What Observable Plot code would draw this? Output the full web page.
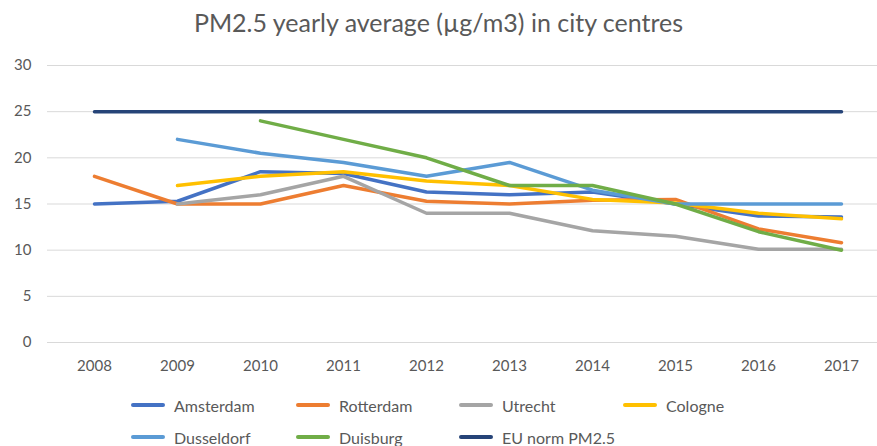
<!DOCTYPE html>
<html>
<head>
<meta charset="utf-8">
<script src="https://cdn.jsdelivr.net/npm/d3@7"></script>
<script src="https://cdn.jsdelivr.net/npm/@observablehq/plot@0.6"></script>
<style>
  html, body { margin: 0; padding: 0; background: #fff; }
  body { width: 877px; height: 446px; overflow: hidden; font-family: Lato, "Open Sans", sans-serif; color: #595959; }
  #title { height: 45px; line-height: 44px; text-align: center; font-size: 25px; color: #595959; }
  #legend { position: relative; height: 61px; }
  .item { position: absolute; display: flex; align-items: center; font-size: 16px; color: #595959; height: 20px; }
  .sw { width: 34px; height: 3.5px; border-radius: 2px; margin-right: 9px; }
</style>
</head>
<body>
<div id="title">PM2.5 yearly average (µg/m3) in city centres</div>
<div id="chart"></div>
<div id="legend"></div>
<script>
const years = [2008, 2009, 2010, 2011, 2012, 2013, 2014, 2015, 2016, 2017];
const seriesNames = ["Amsterdam", "Rotterdam", "Utrecht", "Cologne", "Dusseldorf", "Duisburg", "EU norm PM2.5"];
const seriesColors = ["#4472C4", "#ED7D31", "#A5A5A5", "#FFC000", "#5B9BD5", "#70AD47", "#264478"];
const amsterdam  = [15.0, 15.3, 18.5, 18.3, 16.3, 16.0, 16.3, 15.0, 13.7, 13.6];
const rotterdam  = [18.0, 15.0, 15.0, 17.0, 15.3, 15.0, 15.4, 15.5, 12.3, 10.8];
const utrecht    = [null, 15.0, 16.0, 18.0, 14.0, 14.0, 12.1, 11.5, 10.1, 10.1];
const cologne    = [null, 17.0, 18.0, 18.5, 17.5, 17.0, 15.5, 15.1, 14.0, 13.4];
const dusseldorf = [null, 22.0, 20.5, 19.5, 18.0, 19.5, 16.5, 15.0, 15.0, 15.0];
const duisburg   = [null, null, 24.0, 22.0, 20.0, 17.0, 17.0, 15.0, 12.0, 10.0];
const euNorm     = [25, 25, 25, 25, 25, 25, 25, 25, 25, 25];
const yTicks = [0, 5, 10, 15, 20, 25, 30];

const seriesValues = [amsterdam, rotterdam, utrecht, cologne, dusseldorf, duisburg, euNorm];
const rows = [];
seriesNames.forEach((name, i) => {
  years.forEach((yr, j) => {
    const v = seriesValues[i][j];
    if (v !== null) rows.push({series: name, year: yr, value: v});
  });
});

const chart = Plot.plot({
  width: 877,
  height: 340,
  marginTop: 20,
  marginBottom: 43,
  marginLeft: 47,
  marginRight: 0,
  style: {fontFamily: "Lato, 'Open Sans', sans-serif", fontSize: "15px", color: "#595959", background: "#fff"},
  x: {type: "point", domain: years, range: [91, 843], padding: 0, label: null},
  y: {domain: [0, 30], ticks: yTicks, label: null},
  color: {domain: seriesNames, range: seriesColors},
  marks: [
    Plot.ruleY(yTicks, {stroke: "#d9d9d9", strokeWidth: 1}),
    Plot.axisY({ticks: yTicks, tickSize: 0, tickPadding: 16, label: null, fill: "#595959", fontSize: 15}),
    Plot.axisX({tickSize: 0, tickPadding: 18, label: null, tickFormat: d => String(d), fill: "#595959", fontSize: 15}),
    Plot.line(rows, {x: "year", y: "value", z: "series", stroke: "series", strokeWidth: 3.5, strokeLinecap: "round", strokeLinejoin: "round"})
  ]
});
document.getElementById("chart").appendChild(chart);

const legend = document.getElementById("legend");
const legendPos = [[131, 10], [296, 10], [459, 10], [623, 10], [131, 42], [296, 42], [459, 42]];
seriesNames.forEach((name, i) => {
  const it = document.createElement("div");
  it.className = "item";
  it.style.left = legendPos[i][0] + "px";
  it.style.top = legendPos[i][1] + "px";
  const sw = document.createElement("span");
  sw.className = "sw";
  sw.style.background = seriesColors[i];
  const tx = document.createElement("span");
  tx.textContent = name;
  it.appendChild(sw);
  it.appendChild(tx);
  legend.appendChild(it);
});
</script>
</body>
</html>
